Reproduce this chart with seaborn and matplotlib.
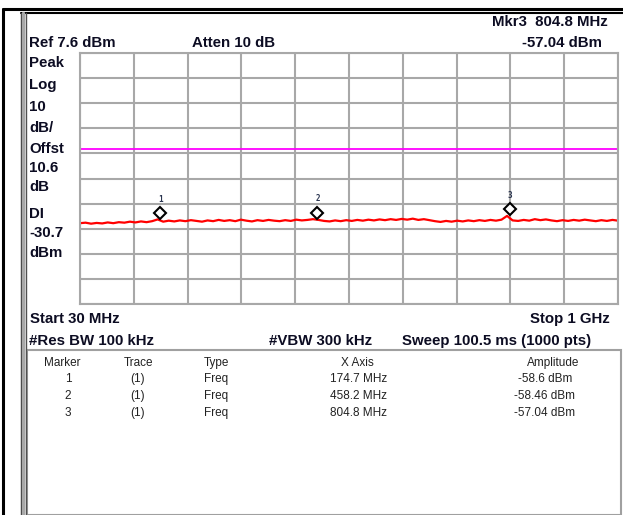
# %% bibliotecas
import matplotlib
matplotlib.use("Agg")
import matplotlib.pyplot as plt
import matplotlib.transforms as mtransforms
from matplotlib.lines import Line2D
from matplotlib.patches import Rectangle
import seaborn as sns

sns.set_style("white")
plt.rcParams['font.family'] = ['Liberation Sans', 'DejaVu Sans']

# %% dados
ref_level = 7.6          # dBm, topo da tela
db_div = 10              # dB por divisao
display_line = -30.7     # dBm
start_mhz = 30
stop_mhz = 1000

trace_freq = list(range(30, 1001, 10))
trace_amp = [
    -60.2, -60.0, -60.4, -60.1, -60.3, -59.9, -60.2, -59.8, -60.0, -59.6,
    -59.9, -59.5, -59.8, -59.4, -58.7, -59.6, -59.2, -59.5, -59.1, -59.4,
    -59.0, -59.3, -59.6, -59.1, -59.4, -58.9, -59.3, -59.0, -59.4, -58.8,
    -59.2, -59.5, -59.0, -59.3, -58.9, -59.2, -59.4, -59.0, -59.3, -58.8,
    -59.1, -58.9, -58.6, -58.9, -59.3, -59.5, -59.1, -59.4, -59.0, -59.3,
    -58.9, -59.2, -58.8, -59.1, -58.7, -59.0, -58.6, -58.9, -58.5, -58.8,
    -58.4, -58.9, -58.6, -59.0, -59.4, -59.7, -59.3, -59.6, -59.2, -59.5,
    -59.1, -59.4, -59.0, -59.3, -58.9, -59.2, -58.8, -57.3, -59.1, -59.3,
    -58.9, -59.2, -58.6, -59.0, -58.7, -59.1, -59.4, -59.0, -59.3, -58.9,
    -59.2, -58.8, -59.1, -59.4, -59.0, -59.3, -58.9, -59.2,
]

# marcadores
marker_ids = ['1', '2', '3']
marker_freq = [174.7, 458.2, 804.8]
marker_amp = [-58.6, -58.46, -57.04]
marker_freq_txt = ['174.7 MHz', '458.2 MHz', '804.8 MHz']
marker_amp_txt = ['-58.6 dBm', '-58.46 dBm', '-57.04 dBm']

left_labels = ['Peak', 'Log', '10', 'dB/', 'Offst', '10.6', 'dB', 'DI', '-30.7', 'dBm']
left_labels_y = [63, 85, 107, 128, 149, 168, 187, 214, 233, 253]

# %% figura
W, H = 623, 515
fig = plt.figure(figsize=(W / 100, H / 100), dpi=100)


def fx(px):
    return px / W


def fy(py):
    return 1 - py / H


def texto(x, y, s, **kw):
    kw.setdefault('va', 'center')
    fig.text(fx(x), fy(y), s, **kw)


def linha(x0, y0, x1, y1, **kw):
    fig.add_artist(Line2D([fx(x0), fx(x1)], [fy(y0), fy(y1)], transform=fig.transFigure, **kw))


# molduras
linha(3, 9, 623, 9, color='black', lw=2.2)
linha(3, 9, 3, 515, color='black', lw=2.2)
linha(21, 13, 623, 13, color='black', lw=1.5)
linha(20.5, 13, 20.5, 515, color='#303030', lw=1)
linha(23, 13, 23, 515, color='#a8a8a8', lw=2.5)
linha(25.5, 13, 25.5, 515, color='#505050', lw=1)
fig.add_artist(Rectangle((fx(27), fy(515)), fx(621) - fx(27), fy(350) - fy(515),
                         transform=fig.transFigure, fill=False, ec='#a0a0a0', lw=1.5))

# area do grafico
gx0, gx1, gy0, gy1 = 80, 618, 53, 304
ax = fig.add_axes([fx(gx0), fy(gy1), fx(gx1) - fx(gx0), fy(gy0) - fy(gy1)])

sns.lineplot(x=trace_freq, y=trace_amp, ax=ax, color='#ff0000', lw=1.6)
ax.axhline(display_line, color='#ff00ff', lw=1.3)

# diamantes dos marcadores, desenhados um pouco acima do traço
off_d = mtransforms.offset_copy(ax.transData, fig=fig, x=0, y=6, units='dots')
off_t = mtransforms.offset_copy(ax.transData, fig=fig, x=0, y=20, units='dots')
for mid, f, a in zip(marker_ids, marker_freq, marker_amp):
    ax.plot(f, a, marker='D', ms=6.5, mfc='white', mec='black', mew=1.5, transform=off_d)
    ax.text(f, a, mid, transform=off_t, ha='center', va='center', fontsize=5.5,
            fontweight='bold', color='#2a3550', family='DejaVu Sans Mono')

span = stop_mhz - start_mhz
ax.set_xlim(start_mhz, stop_mhz)
ax.set_ylim(ref_level - 10 * db_div, ref_level)
ax.set_xticks([start_mhz + span * i / 10 for i in range(11)])
ax.set_yticks([ref_level - db_div * i for i in range(11)])
ax.tick_params(length=0, labelbottom=False, labelleft=False)
ax.grid(True, color='#a8a8a8', lw=1.5)
for sp in ax.spines.values():
    sp.set_color('#a8a8a8')
    sp.set_linewidth(1.5)

# textos do cabeçalho
cor = '#0c0c22'
bold = dict(fontsize=10.8, fontweight='bold', color=cor)
texto(29, 43, 'Ref 7.6 dBm', **bold)
texto(192, 43, 'Atten 10 dB', **bold)
texto(608, 22, 'Mkr3  804.8 MHz', ha='right', **bold)
texto(602, 43, '-57.04 dBm', ha='right', **bold)
for s, y in zip(left_labels, left_labels_y):
    texto(29, y, s, **bold)

texto(30, 319, 'Start 30 MHz', **bold)
texto(610, 319, 'Stop 1 GHz', ha='right', **bold)
texto(29, 341, '#Res BW 100 kHz', **bold)
texto(269, 341, '#VBW 300 kHz', **bold)
texto(402, 341, 'Sweep 100.5 ms (1000 pts)', **bold)

# tabela dos marcadores
tab = dict(fontsize=8.5, color='#222222')
texto(62, 363, 'Marker', ha='center', **tab)
texto(139, 363, 'Trace', ha='center', **tab)
texto(204, 363, 'Type', **tab)
texto(357, 363, 'X Axis', ha='center', **tab)
texto(553, 363, 'Amplitude', ha='center', **tab)
for i, (mid, ft, at) in enumerate(zip(marker_ids, marker_freq_txt, marker_amp_txt)):
    y = 379 + 17 * i
    texto(68, y, mid, ha='center', **tab)
    texto(138, y, '(1)', ha='center', **tab)
    texto(204, y, 'Freq', **tab)
    texto(359, y, ft, ha='center', **tab)
    texto(545, y, at, ha='center', **tab)

fig.savefig('out.png', dpi=100)
